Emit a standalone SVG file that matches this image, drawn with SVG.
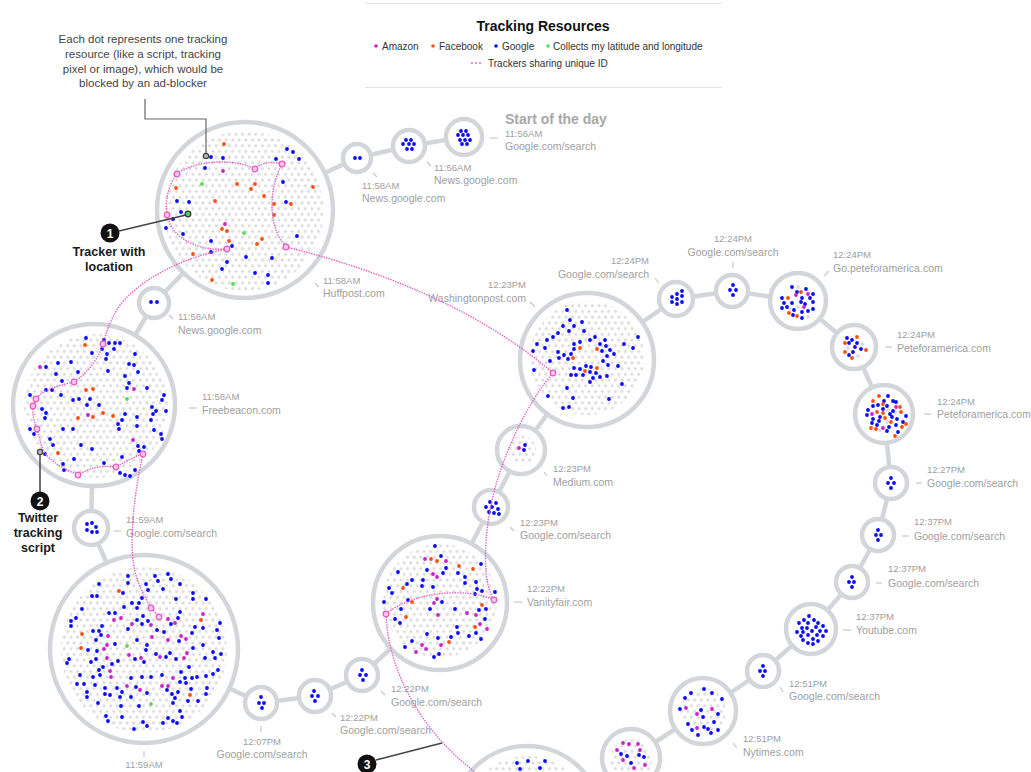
<svg xmlns="http://www.w3.org/2000/svg" width="1031" height="772" viewBox="0 0 1031 772">
<defs>
<pattern id="gp" width="6.6" height="11.43" patternUnits="userSpaceOnUse"><circle cx="1.65" cy="2.86" r="1.6" fill="#dcdcdc"/><circle cx="4.95" cy="8.57" r="1.6" fill="#dcdcdc"/></pattern>
</defs>
<style>
.ring{fill:#fff;stroke:#d2d6db;stroke-width:4.5}
.con line{stroke:#d2d6db;stroke-width:4.5}
.d{fill:none;stroke-width:3.8;stroke-linecap:round}
.b{stroke:#0a0aff}.o{stroke:#ff4f0f}.m{stroke:#cc22cc}.g{stroke:#55dd55}.gr{stroke:#dcdcdc}
.tm{font-family:"Liberation Sans",Arial,sans-serif;font-size:9.5px;fill:#a0a0a0}
.st{font-family:"Liberation Sans",Arial,sans-serif;font-size:10.5px;fill:#a0a0a0}
.e{text-anchor:end}.c{text-anchor:middle}
.tk{stroke:#c8c8c8;stroke-width:1.2}
.pk{fill:none;stroke:#e55cc6;stroke-width:1.4;stroke-dasharray:1.4 1.2}
.pc{fill:#f7c4ea;stroke:#e55cc6;stroke-width:1.2}
.ann{font-family:"Liberation Sans",Arial,sans-serif;font-size:12.5px;font-weight:bold;fill:#1a1a1a;text-anchor:middle}
.num{font-family:"Liberation Sans",Arial,sans-serif;font-size:12px;font-weight:bold;fill:#fff;text-anchor:middle}
.note{font-family:"Liberation Sans",Arial,sans-serif;font-size:11.5px;fill:#444;text-anchor:middle}
.lg{font-family:"Liberation Sans",Arial,sans-serif;font-size:10px;fill:#333}
</style>
<rect width="1031" height="772" fill="#fff"/>

<g id="legend">
<line x1="365" y1="3.5" x2="722" y2="3.5" stroke="#e4e4e4"/>
<line x1="365" y1="87.5" x2="722" y2="87.5" stroke="#e4e4e4"/>
<text x="543" y="31" text-anchor="middle" font-family="Liberation Sans, Arial, sans-serif" font-size="14" font-weight="bold" fill="#121212">Tracking Resources</text>
<circle cx="376" cy="46" r="1.8" fill="#cc22cc"/><text class="lg" x="382" y="49.5">Amazon</text>
<circle cx="433" cy="46" r="1.8" fill="#ff4f0f"/><text class="lg" x="439" y="49.5">Facebook</text>
<circle cx="496" cy="46" r="1.8" fill="#0a0aff"/><text class="lg" x="502" y="49.5">Google</text>
<circle cx="548" cy="46" r="1.8" fill="#55dd55"/><text class="lg" x="553" y="49.5">Collects my latitude and longitude</text>
<circle cx="472" cy="63" r="0.9" fill="#e55cc6"/><circle cx="476" cy="63" r="0.9" fill="#e55cc6"/><circle cx="480" cy="63" r="0.9" fill="#e55cc6"/>
<text class="lg" x="488" y="67">Trackers sharing unique ID</text>
</g>

<g class="con" id="connectors">
<line x1="464" y1="137" x2="409" y2="146"/>
<line x1="409" y1="146" x2="357" y2="158"/>
<line x1="357" y1="158" x2="245" y2="210"/>
<line x1="245" y1="210" x2="154" y2="303"/>
<line x1="154" y1="303" x2="94" y2="405"/>
<line x1="94" y1="405" x2="91" y2="527"/>
<line x1="91" y1="527" x2="144" y2="649"/>
<line x1="144" y1="649" x2="261" y2="703"/>
<line x1="261" y1="703" x2="315" y2="696"/>
<line x1="315" y1="696" x2="362" y2="675"/>
<line x1="362" y1="675" x2="440" y2="603"/>
<line x1="440" y1="603" x2="491" y2="507"/>
<line x1="491" y1="507" x2="521" y2="450"/>
<line x1="521" y1="450" x2="587" y2="360"/>
<line x1="587" y1="360" x2="676" y2="299"/>
<line x1="676" y1="299" x2="732" y2="291"/>
<line x1="732" y1="291" x2="798" y2="301"/>
<line x1="798" y1="301" x2="854" y2="347"/>
<line x1="854" y1="347" x2="884" y2="414"/>
<line x1="884" y1="414" x2="891" y2="483"/>
<line x1="891" y1="483" x2="878" y2="535"/>
<line x1="878" y1="535" x2="852" y2="582"/>
<line x1="852" y1="582" x2="811" y2="629"/>
<line x1="811" y1="629" x2="763" y2="671"/>
<line x1="763" y1="671" x2="703" y2="711"/>
<line x1="703" y1="711" x2="631" y2="758"/>
<line x1="631" y1="758" x2="527" y2="821"/>
</g>

<g id="n01">
<circle class="ring" cx="464" cy="137" r="18"/>
<path class="d b" d="M461 131h0M466 131h0M458 135h0M463 135h0M468 135h0M460 140h0M465 140h0M470 140h0M462 144h0M467 144h0"/>
<text x="505" y="124" font-family="Liberation Sans, Arial, sans-serif" font-size="14" font-weight="bold" fill="#a8a8a8">Start of the day</text>
<text class="tm" x="505" y="137">11:56AM</text>
<text class="st" x="505" y="150">Google.com/search</text>
<line class="tk" x1="490" y1="138" x2="498" y2="138"/>
</g>

<g id="n02">
<circle class="ring" cx="409" cy="146" r="16"/>
<path class="d b" d="M406 140h0M411 140h0M403 144h0M409 144h0M414 144h0M407 149h0M412 149h0"/>
<text class="tm" x="434" y="171">11:56AM</text>
<text class="st" x="434" y="184">News.google.com</text>
<line class="tk" x1="427" y1="162" x2="431" y2="166"/>
</g>

<g id="n03">
<circle class="ring" cx="357" cy="158" r="14"/>
<path class="d b" d="M355 158h0M360 158h0"/>
<text class="tm" x="362" y="189">11:58AM</text>
<text class="st" x="362" y="202">News.google.com</text>
<line class="tk" x1="373" y1="173" x2="377" y2="177"/>
</g>

<g id="n04">
<circle class="ring" cx="245" cy="210" r="88"/>
<circle cx="244" cy="211" r="80" fill="url(#gp)"/>
<path class="d b" d="M211 157h0M223 158h0M205 168h0M287 149h0M293 152h0M299 159h0M276 159h0M283 182h0M177 201h0M189 202h0M181 212h0M173 219h0M166 228h0M183 234h0M211 241h0M232 246h0M211 252h0M227 262h0M222 269h0M246 257h0M272 258h0M255 273h0M268 275h0M268 283h0M286 202h0M297 236h0"/>
<path class="d o" d="M224 144h0M176 188h0M237 184h0M255 184h0M251 189h0M264 196h0M215 201h0M274 204h0M291 204h0M274 215h0M222 229h0M227 231h0M229 241h0M262 239h0M257 244h0M193 254h0M212 280h0M313 187h0"/>
<path class="d m" d="M223 171h0M225 224h0"/>
<path class="d g" d="M202 184h0M244 233h0M233 284h0"/>
<text class="tm" x="323" y="284">11:58AM</text>
<text class="st" x="323" y="297">Huffpost.com</text>
<line class="tk" x1="315" y1="283" x2="319" y2="287"/>
</g>

<g id="n05">
<circle class="ring" cx="154" cy="303" r="15"/>
<path class="d b" d="M151 302h0M157 302h0"/>
<text class="tm" x="178" y="320">11:58AM</text>
<text class="st" x="178" y="334">News.google.com</text>
<line class="tk" x1="169" y1="315" x2="173" y2="319"/>
</g>

<g id="n06">
<circle class="ring" cx="94" cy="405" r="81"/>
<circle cx="96" cy="406" r="72" fill="url(#gp)"/>
<path class="d b" d="M86 338h0M104 340h0M109 343h0M115 343h0M120 343h0M114 349h0M102 349h0M107 354h0M92 353h0M106 359h0M135 354h0M71 362h0M58 363h0M46 367h0M129 364h0M134 365h0M138 372h0M108 371h0M56 374h0M78 372h0M125 376h0M129 383h0M147 388h0M127 388h0M62 381h0M46 390h0M52 390h0M61 395h0M30 395h0M73 400h0M79 399h0M90 399h0M87 405h0M99 405h0M125 414h0M137 417h0M152 407h0M162 400h0M164 395h0M156 411h0M166 411h0M42 409h0M46 413h0M45 418h0M122 420h0M118 424h0M119 429h0M137 426h0M151 420h0M153 414h0M63 429h0M73 429h0M30 429h0M34 434h0M154 430h0M161 434h0M162 439h0M50 439h0M53 445h0M45 454h0M81 445h0M92 449h0M104 463h0M63 464h0M64 470h0M74 459h0M122 457h0M138 446h0M144 447h0M139 451h0M120 473h0M125 475h0M130 476h0M135 470h0"/>
<path class="d o" d="M85 345h0M86 390h0M93 389h0M78 418h0M93 417h0M103 413h0M113 416h0M58 453h0"/>
<path class="d m" d="M40 367h0M134 389h0M88 415h0M133 440h0M116 468h0"/>
<path class="d g" d="M127 399h0"/>
<text class="tm" x="202" y="400">11:58AM</text>
<text class="st" x="202" y="414">Freebeacon.com</text>
<line class="tk" x1="189" y1="408" x2="197" y2="408"/>
</g>

<g id="n07">
<circle class="ring" cx="91" cy="528" r="17"/>
<path class="d b" d="M87 524h0M92 523h0M96 527h0M87 530h0M92 532h0M97 532h0"/>
<text class="tm" x="126" y="523">11:59AM</text>
<text class="st" x="126" y="537">Google.com/search</text>
<line class="tk" x1="114" y1="531" x2="121" y2="531"/>
</g>

<g id="n08">
<circle class="ring" cx="144" cy="649" r="94"/>
<circle cx="144" cy="650" r="83" fill="url(#gp)"/>
<path class="d b" d="M128 576h0M128 583h0M155 576h0M158 581h0M168 574h0M171 579h0M180 584h0M99 584h0M123 593h0M92 596h0M97 596h0M163 589h0M146 584h0M148 590h0M193 593h0M206 599h0M176 599h0M193 599h0M132 603h0M139 603h0M137 608h0M142 598h0M124 607h0M82 609h0M76 618h0M71 621h0M115 613h0M109 613h0M137 620h0M143 616h0M148 621h0M142 624h0M180 612h0M171 624h0M178 618h0M195 627h0M203 628h0M220 623h0M217 630h0M71 626h0M128 629h0M102 626h0M93 631h0M99 631h0M157 630h0M164 632h0M192 633h0M179 641h0M219 638h0M96 640h0M101 635h0M137 640h0M147 645h0M115 644h0M88 650h0M97 651h0M146 650h0M193 648h0M203 645h0M213 652h0M221 654h0M215 658h0M205 658h0M166 657h0M170 653h0M176 659h0M156 654h0M144 662h0M135 659h0M118 661h0M112 664h0M91 662h0M96 659h0M69 659h0M67 663h0M103 667h0M99 670h0M100 675h0M93 677h0M80 675h0M189 667h0M218 670h0M213 674h0M206 676h0M197 677h0M192 678h0M185 678h0M181 672h0M180 682h0M186 683h0M162 675h0M151 677h0M142 677h0M131 678h0M84 684h0M77 684h0M95 685h0M105 688h0M117 688h0M122 692h0M136 687h0M147 693h0M167 690h0M172 694h0M178 692h0M191 689h0M207 688h0M206 694h0M87 692h0M87 697h0M105 694h0M110 695h0M120 697h0M131 697h0M139 706h0M121 706h0M98 703h0M175 698h0M173 703h0M188 701h0M198 701h0M180 711h0M182 717h0M168 718h0M173 721h0M177 723h0M163 723h0M143 722h0M147 726h0M134 729h0M122 717h0M106 716h0M108 721h0"/>
<path class="d m" d="M151 608h0M168 619h0M175 623h0M203 614h0M121 618h0M114 620h0M132 624h0M151 625h0M108 636h0M104 649h0M107 645h0M152 637h0M168 640h0M181 636h0M186 639h0M187 653h0M184 658h0M160 657h0M129 655h0M141 658h0M107 658h0M110 671h0M111 677h0M173 678h0M162 686h0M168 686h0M127 686h0M140 690h0"/>
<path class="d o" d="M119 591h0M201 620h0M82 634h0M81 648h0M190 695h0"/>
<path class="d g" d="M127 646h0M151 704h0"/>
<text class="tm c" x="144" y="768">11:59AM</text>
<line class="tk" x1="144" y1="751" x2="144" y2="757"/>
</g>

<g id="n09">
<circle class="ring" cx="261" cy="703" r="16"/>
<path class="d b" d="M261 697h0M259 703h0M264 703h0M262 708h0"/>
<text class="tm c" x="262" y="745">12:07PM</text>
<text class="st c" x="262" y="758">Google.com/search</text>
<line class="tk" x1="261" y1="726" x2="261" y2="732"/>
</g>

<g id="n10">
<circle class="ring" cx="315" cy="696" r="16"/>
<path class="d b" d="M314 691h0M312 696h0M318 696h0M315 701h0"/>
<text class="tm" x="340" y="721">12:22PM</text>
<text class="st" x="340" y="734">Google.com/search</text>
<line class="tk" x1="332" y1="713" x2="336" y2="717"/>
</g>

<g id="n11">
<circle class="ring" cx="362" cy="675" r="16"/>
<path class="d b" d="M362 670h0M360 675h0M366 675h0M363 680h0"/>
<text class="tm" x="391" y="692">12:22PM</text>
<text class="st" x="391" y="706">Google.com/search</text>
<line class="tk" x1="381" y1="691" x2="385" y2="695"/>
</g>

<g id="n12">
<circle class="ring" cx="440" cy="603" r="67"/>
<circle cx="440" cy="601" r="57" fill="url(#gp)"/>
<path class="d b" d="M435 546h0M441 556h0M446 568h0M443 573h0M427 570h0M398 572h0M458 573h0M465 577h0M481 564h0M465 583h0M476 582h0M477 589h0M482 591h0M475 594h0M486 609h0M479 610h0M485 619h0M476 633h0M481 639h0M469 636h0M457 627h0M458 633h0M451 637h0M438 638h0M427 634h0M412 641h0M405 647h0M434 657h0M439 654h0M430 609h0M442 602h0M455 609h0M401 609h0M395 619h0M400 623h0M384 602h0M389 588h0M392 593h0M407 584h0M412 580h0M422 586h0M423 580h0M433 587h0M408 600h0M495 592h0"/>
<path class="d o" d="M431 559h0M437 561h0M459 566h0M473 569h0M403 588h0M412 602h0M406 617h0M482 605h0M475 627h0M449 642h0"/>
<path class="d m" d="M425 559h0M446 561h0M433 574h0M437 577h0M437 599h0M434 603h0M438 615h0M467 613h0M476 615h0M480 624h0M487 629h0M422 645h0M441 645h0M426 649h0M416 652h0"/>
<text class="tm" x="527" y="592">12:22PM</text>
<text class="st" x="527" y="606">Vanityfair.com</text>
<line class="tk" x1="514" y1="602" x2="522" y2="602"/>
</g>

<g id="n13">
<circle class="ring" cx="491" cy="507" r="17"/>
<path class="d b" d="M490 502h0M496 503h0M486 507h0M492 507h0M498 509h0M489 512h0M494 513h0M499 514h0"/>
<text class="tm" x="520" y="526">12:23PM</text>
<text class="st" x="520" y="539">Google.com/search</text>
<line class="tk" x1="510" y1="527" x2="514" y2="531"/>
</g>

<g id="n14">
<circle class="ring" cx="521" cy="450" r="24"/>
<circle cx="522" cy="450" r="14" fill="url(#gp)"/>
<path class="d b" d="M525 445h0M524 450h0"/>
<path class="d m" d="M519 448h0"/>
<text class="tm" x="553" y="472">12:23PM</text>
<text class="st" x="553" y="486">Medium.com</text>
<line class="tk" x1="544" y1="472" x2="547" y2="476"/>
</g>

<g id="n15">
<circle class="ring" cx="587" cy="360" r="67"/>
<circle cx="587" cy="358" r="57" fill="url(#gp)"/>
<path class="d b" d="M567 310h0M570 320h0M582 322h0M574 326h0M563 326h0M569 331h0M584 331h0M558 333h0M553 337h0M547 340h0M537 344h0M545 348h0M533 351h0M558 352h0M550 361h0M559 358h0M564 355h0M568 359h0M571 354h0M574 344h0M580 342h0M574 349h0M590 340h0M595 337h0M605 340h0M600 344h0M606 346h0M610 350h0M614 354h0M602 351h0M607 356h0M603 361h0M608 365h0M618 366h0M624 344h0M633 348h0M638 337h0M574 368h0M580 369h0M571 375h0M576 375h0M586 366h0M591 367h0M596 373h0M583 375h0M590 372h0M593 378h0M600 377h0M590 382h0M607 376h0M622 384h0M567 388h0M573 398h0M563 408h0M569 407h0M548 396h0M609 399h0M534 370h0"/>
<path class="d o" d="M580 348h0M597 349h0M573 358h0M585 371h0M597 368h0"/>
<text class="tm e" x="526" y="288">12:23PM</text>
<text class="st e" x="526" y="302">Washingtonpost.com</text>
<line class="tk" x1="530" y1="302" x2="535" y2="307"/>
</g>

<g id="n16">
<circle class="ring" cx="676" cy="299" r="17"/>
<path class="d b" d="M682 291h0M677 294h0M672 297h0M677 299h0M682 296h0M672 302h0M677 304h0M682 302h0"/>
<text class="tm e" x="649" y="264">12:24PM</text>
<text class="st e" x="649" y="278">Google.com/search</text>
<line class="tk" x1="655" y1="278" x2="659" y2="283"/>
</g>

<g id="n17">
<circle class="ring" cx="732" cy="291" r="16"/>
<path class="d b" d="M733 285h0M730 290h0M736 290h0M733 295h0"/>
<text class="tm c" x="733" y="242">12:24PM</text>
<text class="st c" x="733" y="256">Google.com/search</text>
<line class="tk" x1="733" y1="262" x2="733" y2="268"/>
</g>

<g id="n18">
<circle class="ring" cx="798" cy="301" r="28"/>
<path class="d gr" d="M798 287h0M798 307h0M808 317h0M790 309h0"/>
<path class="d b" d="M792 287h0M797 292h0M806 289h0M813 294h0M782 298h0M784 303h0M792 303h0M802 298h0M810 298h0M801 302h0M805 304h0M787 307h0M794 310h0M802 312h0M808 311h0M813 309h0M793 315h0M802 318h0M782 308h0M813 302h0"/>
<path class="d o" d="M801 292h0M788 298h0M789 313h0M797 316h0"/>
<path class="d m" d="M796 295h0M808 294h0M804 307h0"/>
<text class="tm" x="833" y="258">12:24PM</text>
<text class="st" x="833" y="272">Go.peteforamerica.com</text>
<line class="tk" x1="824" y1="276" x2="829" y2="271"/>
</g>

<g id="n19">
<circle class="ring" cx="854" cy="347" r="22"/>
<path class="d gr" d="M862 344h0M848 348h0M858 356h0"/>
<path class="d b" d="M847 338h0M852 340h0M857 343h0M861 349h0M855 347h0M853 352h0M849 355h0M849 343h0"/>
<path class="d o" d="M857 337h0M845 343h0M866 350h0M845 352h0M852 358h0"/>
<text class="tm" x="897" y="338">12:24PM</text>
<text class="st" x="897" y="352">Peteforamerica.com</text>
<line class="tk" x1="885" y1="347" x2="892" y2="347"/>
</g>

<g id="n20">
<circle class="ring" cx="884" cy="414" r="29"/>
<path class="d gr" d="M888 410h0M895 412h0M887 422h0M880 430h0"/>
<path class="d b" d="M888 396h0M884 401h0M893 401h0M878 405h0M873 406h0M887 406h0M896 402h0M883 409h0M890 414h0M880 417h0M867 415h0M873 419h0M877 425h0M892 417h0M897 419h0M906 416h0M872 423h0M879 421h0M889 427h0M896 425h0M887 431h0M903 422h0M898 432h0M893 411h0M868 410h0"/>
<path class="d o" d="M873 401h0M879 396h0M883 404h0M877 412h0M883 413h0M900 407h0M901 412h0M885 418h0M902 427h0M871 428h0M895 436h0M906 424h0M876 429h0M891 422h0"/>
<path class="d m" d="M896 407h0M872 414h0M883 428h0"/>
<text class="tm" x="937" y="405">12:24PM</text>
<text class="st" x="937" y="418">Peteforamerica.com</text>
<line class="tk" x1="924" y1="414" x2="931" y2="414"/>
</g>

<g id="n21">
<circle class="ring" cx="891" cy="483" r="16"/>
<path class="d b" d="M891 478h0M888 483h0M894 483h0M891 488h0"/>
<text class="tm" x="927" y="473">12:27PM</text>
<text class="st" x="927" y="487">Google.com/search</text>
<line class="tk" x1="916" y1="483" x2="922" y2="483"/>
</g>

<g id="n22">
<circle class="ring" cx="878" cy="535" r="16"/>
<path class="d b" d="M878 530h0M876 535h0M881 535h0M878 540h0"/>
<text class="tm" x="914" y="525">12:37PM</text>
<text class="st" x="914" y="540">Google.com/search</text>
<line class="tk" x1="902" y1="536" x2="909" y2="536"/>
</g>

<g id="n23">
<circle class="ring" cx="852" cy="582" r="16"/>
<path class="d b" d="M852 577h0M849 582h0M854 582h0M852 587h0"/>
<text class="tm" x="888" y="572">12:37PM</text>
<text class="st" x="888" y="587">Google.com/search</text>
<line class="tk" x1="876" y1="583" x2="882" y2="583"/>
</g>

<g id="n24">
<circle class="ring" cx="811" cy="629" r="25"/>
<path class="d b" d="M809 616h0M804 620h0M814 620h0M799 623h0M808 623h0M818 623h0M802 628h0M807 628h0M816 627h0M823 626h0M797 632h0M803 632h0M812 631h0M820 631h0M801 636h0M808 635h0M817 635h0M823 636h0M803 640h0M813 639h0M808 643h0M818 641h0M813 644h0M826 631h0"/>
<text class="tm" x="856" y="620">12:37PM</text>
<text class="st" x="856" y="634">Youtube.com</text>
<line class="tk" x1="843" y1="630" x2="851" y2="630"/>
</g>

<g id="n25">
<circle class="ring" cx="763" cy="671" r="16"/>
<path class="d b" d="M763 666h0M760 671h0M765 671h0M763 676h0"/>
<text class="tm" x="789" y="687">12:51PM</text>
<text class="st" x="789" y="700">Google.com/search</text>
<line class="tk" x1="780" y1="687" x2="783" y2="692"/>
</g>

<g id="n26">
<circle class="ring" cx="703" cy="711" r="33"/>
<circle cx="703" cy="711" r="23" fill="url(#gp)"/>
<path class="d b" d="M704 689h0M712 693h0M691 693h0M685 698h0M722 699h0M680 709h0M701 710h0M718 714h0M688 724h0M692 730h0M704 727h0M708 729h0M711 733h0M718 730h0M714 722h0M703 717h0M698 735h0"/>
<path class="d m" d="M686 708h0M697 714h0M712 709h0M697 728h0"/>
<text class="tm" x="743" y="742">12:51PM</text>
<text class="st" x="743" y="756">Nytimes.com</text>
<line class="tk" x1="733" y1="743" x2="737" y2="748"/>
</g>

<g id="n27">
<circle class="ring" cx="631" cy="758" r="29"/>
<circle cx="631" cy="760" r="21" fill="url(#gp)"/>
<path class="d m" d="M623 743h0M629 744h0M638 744h0M617 750h0M640 750h0M623 760h0M634 768h0M645 765h0"/>
<path class="d b" d="M621 754h0M639 755h0M644 757h0M631 763h0M627 756h0"/>
</g>

<g id="n28">
<circle class="ring" cx="527" cy="821" r="75"/>
<circle cx="527" cy="821" r="65" fill="url(#gp)"/>
<path class="d b" d="M517 763h0M528 761h0M545 761h0M520 769h0M540 768h0"/>
</g>

<g id="tracker-links">
<path class="pk" d="M177 174C195 160 235 158 255 169C262 162 272 161 282 164"/>
<path class="pk" d="M282 164C270 185 266 225 286 247"/>
<path class="pk" d="M286 247C380 270 480 310 553 373"/>
<path class="pk" d="M177 174C163 192 160 225 185 240C200 249 215 250 227 249"/>
<path class="pk" d="M227 249C180 258 140 280 120 305C110 320 106 333 103 344"/>
<path class="pk" d="M103 344C98 360 88 372 74 382C55 386 40 392 36 399C30 410 34 420 37 429C40 440 42 450 45 453C52 462 60 467 78 475C90 468 100 465 116 467C125 462 135 456 143 454"/>
<path class="pk" d="M143 454C135 490 130 530 133 560C136 585 148 605 159 617"/>
<path class="pk" d="M553 373C525 405 498 465 490 510C483 550 484 585 494 600"/>
<path class="pk" d="M494 600C470 588 415 590 386 614"/>
<path class="pk" d="M386 614C388 670 420 730 475 772"/>
<g class="pc">
<circle cx="177" cy="174" r="2.8"/><circle cx="255" cy="169" r="2.8"/><circle cx="282" cy="164" r="2.8"/>
<circle cx="167" cy="215" r="2.8"/><circle cx="227" cy="249" r="2.8"/><circle cx="286" cy="247" r="2.8"/>
<circle cx="103" cy="344" r="2.8"/><circle cx="74" cy="382" r="2.8"/><circle cx="36" cy="399" r="2.8"/>
<circle cx="33" cy="406" r="2.8"/><circle cx="37" cy="429" r="2.8"/><circle cx="78" cy="475" r="2.8"/>
<circle cx="116" cy="467" r="2.8"/><circle cx="143" cy="454" r="2.8"/>
<circle cx="151" cy="608" r="2.8"/><circle cx="159" cy="617" r="2.8"/>
<circle cx="553" cy="373" r="2.8"/><circle cx="494" cy="600" r="2.8"/><circle cx="386" cy="614" r="2.8"/>
</g>
</g>

<g id="note-top">
<text class="note" x="143" y="43">Each dot represents one tracking</text>
<text class="note" x="143" y="58">resource (like a script, tracking</text>
<text class="note" x="143" y="73">pixel or image), which would be</text>
<text class="note" x="143" y="87">blocked by an ad-blocker</text>
<polyline points="145,99 145,119 206,119 206,153" fill="none" stroke="#666" stroke-width="1.2"/>
<circle cx="206" cy="156" r="2.6" fill="#bbb" stroke="#444" stroke-width="1.2"/>
</g>

<g id="note-1">
<line x1="119" y1="231" x2="186" y2="215" stroke="#444" stroke-width="1.5"/>
<circle cx="188" cy="214" r="2.8" fill="#55cc55" stroke="#333" stroke-width="1.2"/>
<circle cx="110" cy="233" r="9.5" fill="#111"/>
<text class="num" x="110" y="237.5">1</text>
<text class="ann" x="109" y="256">Tracker with</text>
<text class="ann" x="109" y="271">location</text>
</g>

<g id="note-2">
<circle cx="40" cy="452" r="2.6" fill="#bbb" stroke="#444" stroke-width="1.2"/>
<line x1="40" y1="455" x2="40" y2="492" stroke="#444" stroke-width="1.5"/>
<circle cx="40" cy="501" r="9.5" fill="#111"/>
<text class="num" x="40" y="505.5">2</text>
<text class="ann" x="38" y="522">Twitter</text>
<text class="ann" x="38" y="537">tracking</text>
<text class="ann" x="38" y="552">script</text>
</g>

<g id="note-3">
<line x1="376" y1="760" x2="442" y2="743" stroke="#444" stroke-width="1.5"/>
<circle cx="367" cy="764" r="9.5" fill="#111"/>
<text class="num" x="367" y="768.5">3</text>
</g>
</svg>
